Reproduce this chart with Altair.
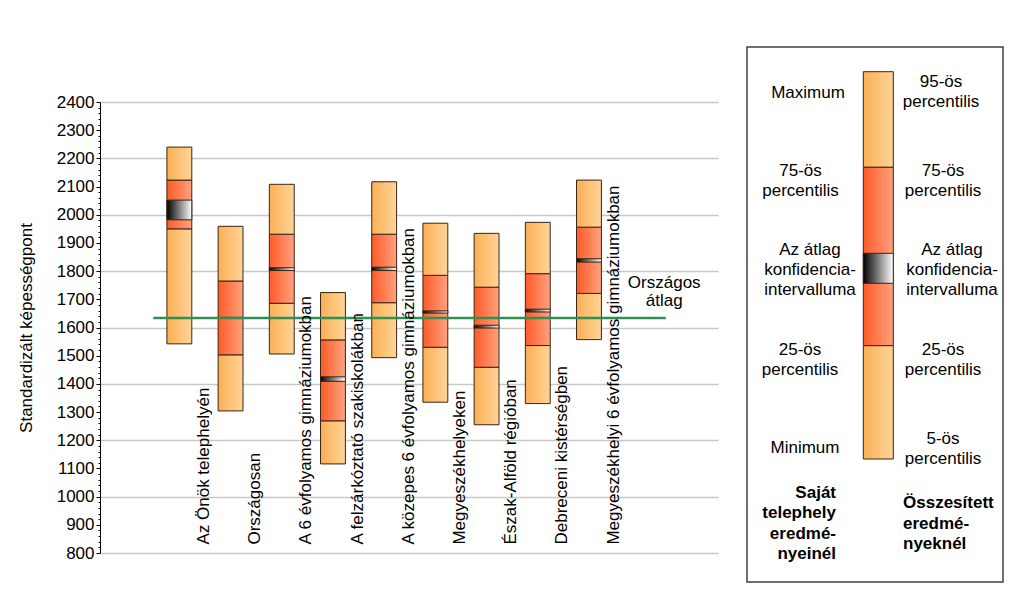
import altair as alt
import pandas as pd

FONT = "Liberation Sans"

# ---------------- data ----------------
categories = [
    "Az Önök telephelyén",
    "Országosan",
    "A 6 évfolyamos gimnáziumokban",
    "A felzárkóztató szakiskolákban",
    "A közepes 6 évfolyamos gimnáziumokban",
    "Megyeszékhelyeken",
    "Észak-Alföld régióban",
    "Debreceni kistérségben",
    "Megyeszékhelyi 6 évfolyamos gimnáziumokban",
]
p_low = [1542, 1304, 1506, 1116, 1493, 1335, 1255, 1330, 1557]
q1 = [1950, 1503, 1686, 1269, 1688, 1530, 1459, 1536, 1721]
ci_low = [1982, 1632, 1802, 1409, 1802, 1651, 1598, 1655, 1832]
ci_high = [2052, 1636, 1812, 1425, 1814, 1659, 1608, 1665, 1844]
q3 = [2123, 1765, 1931, 1556, 1931, 1785, 1743, 1791, 1956]
p_high = [2240, 1959, 2108, 1724, 2117, 1970, 1934, 1973, 2123]
national_avg = 1634
national_label = "Országos\nátlag"

y_min, y_max = 800, 2400

# ---------------- styles ----------------
LIGHT = alt.LinearGradient(gradient="linear", x1=0, x2=1, y1=0, y2=0,
                           stops=[alt.GradientStop(color="#FBB055", offset=0),
                                  alt.GradientStop(color="#FFD498", offset=1)])
RED = alt.LinearGradient(gradient="linear", x1=0, x2=1, y1=0, y2=0,
                         stops=[alt.GradientStop(color="#FF5A28", offset=0),
                                alt.GradientStop(color="#FFA27E", offset=1)])
CI = alt.LinearGradient(gradient="linear", x1=0, x2=1, y1=0, y2=0,
                        stops=[alt.GradientStop(color="#000000", offset=0),
                               alt.GradientStop(color="#FFFFFF", offset=1)])
STROKE = "#3a2414"

n = len(categories)
pos = [i + 1.5 for i in range(n)]
half = 0.243
df = pd.DataFrame({"cat": categories, "pos": pos, "lo": p_low, "q1": q1,
                   "cil": ci_low, "cih": ci_high, "q3": q3, "hi": p_high})
df["x1"] = df["pos"] - half
df["x2"] = df["pos"] + half
df["lx"] = df["pos"] + 0.48
df["ly"] = 830

xs = alt.Scale(domain=[-0.05, 12.02], nice=False, zero=False)
ys = alt.Scale(domain=[y_min, y_max], nice=False, zero=False)

yaxis = alt.Axis(
    values=list(range(y_min, y_max + 1, 20)),
    format="d",
    labelExpr="datum.value % 100 === 0 ? datum.label : ''",
    tickSize={"condition": {"test": "datum.value % 100 === 0", "value": 4}, "value": 2},
    gridOpacity={"condition": {"test": "datum.value % 200 === 0", "value": 1}, "value": 0},
    grid=True, gridColor="#c8c8c8", gridWidth=1.5,
    domainColor="#000000", tickColor="#000000", domainWidth=1,
    labelFont=FONT, labelFontSize=17, labelColor="#000000", labelPadding=2,
    labelOverlap=False,
    title="Standardizált képességpont", titleFont=FONT, titleFontSize=17,
    titleFontWeight="normal", titleColor="#000000", titleX=-69,
    titleBaseline="alphabetic",
)

base = alt.Chart(df)


def seg(a, b, grad):
    return base.mark_rect(fill=grad, stroke=STROKE, strokeWidth=1).encode(
        x=alt.X("x1:Q", scale=xs, axis=None), x2="x2:Q",
        y=alt.Y(f"{a}:Q", scale=ys, axis=yaxis), y2=f"{b}:Q")


bars = [seg("lo", "q1", LIGHT), seg("q1", "q3", RED), seg("q3", "hi", LIGHT),
        seg("cil", "cih", CI)]

labels = base.mark_text(angle=270, align="left", baseline="middle", font=FONT,
                        fontSize=17, color="#000000").encode(
    x=alt.X("lx:Q", scale=xs, axis=None),
    y=alt.Y("ly:Q", scale=ys, axis=yaxis),
    text="cat:N")

avg_df = pd.DataFrame({"x": [pos[0] - 0.51], "x2": [pos[-1] + 1.5], "y": [national_avg],
                       "lx": [pos[-1] + 1.47], "ly": [1739], "t": [national_label]})
avg_line = alt.Chart(avg_df).mark_rule(color="#2f8f55", strokeWidth=2.5).encode(
    x=alt.X("x:Q", scale=xs, axis=None), x2="x2:Q",
    y=alt.Y("y:Q", scale=ys, axis=yaxis))
avg_text = alt.Chart(avg_df).mark_text(align="center", baseline="alphabetic", font=FONT,
                                       fontSize=17, lineBreak="\n", lineHeight=18,
                                       color="#000000").encode(
    x=alt.X("lx:Q", scale=xs, axis=None),
    y=alt.Y("ly:Q", scale=ys, axis=yaxis),
    text="t:N")

main = alt.layer(*bars, avg_line, labels, avg_text)

# ---------------- legend (own scales, reference pixel units) ----------------
lxs = alt.Scale(domain=[100, 718], nice=False, zero=False)
lys = alt.Scale(domain=[102, 553], nice=False, zero=False, reverse=True)

box_df = pd.DataFrame({"x": [747], "x2": [1003], "y": [47], "y2": [582]})
legend_box = alt.Chart(box_df).mark_rect(fill="white", stroke="#404040", strokeWidth=1.5).encode(
    x=alt.X("x:Q", scale=lxs, axis=None), x2="x2:Q",
    y=alt.Y("y:Q", scale=lys, axis=None), y2="y2:Q")

leg_levels = [71.7, 167.3, 253.3, 283.3, 345.7, 459]  # top, q3, ci top, ci bottom, q1, bottom
leg_bar_x = [863.3, 893.3]


def legseg(a, b, grad):
    d = pd.DataFrame({"x": [leg_bar_x[0]], "x2": [leg_bar_x[1]], "y": [a], "y2": [b]})
    return alt.Chart(d).mark_rect(fill=grad, stroke=STROKE, strokeWidth=1).encode(
        x=alt.X("x:Q", scale=lxs, axis=None), x2="x2:Q",
        y=alt.Y("y:Q", scale=lys, axis=None), y2="y2:Q")


leg_bars = [legseg(leg_levels[0], leg_levels[1], LIGHT),
            legseg(leg_levels[1], leg_levels[4], RED),
            legseg(leg_levels[2], leg_levels[3], CI),
            legseg(leg_levels[4], leg_levels[5], LIGHT)]

leg_left_text = ["Maximum", "75-ös\npercentilis", "Az átlag\nkonfidencia-\nintervalluma",
                 "25-ös\npercentilis", "Minimum"]
leg_left_x = [808, 800.5, 810, 800, 805]
leg_left_y = [98.3, 176, 255, 355, 453.3]
leg_right_text = ["95-ös\npercentilis", "75-ös\npercentilis", "Az átlag\nkonfidencia-\nintervalluma",
                  "25-ös\npercentilis", "5-ös\npercentilis"]
leg_right_x = [941, 943, 952, 943, 943]
leg_right_y = [87.3, 176, 255, 355, 444]

reg_df = pd.DataFrame({"t": leg_left_text + leg_right_text,
                       "x": leg_left_x + leg_right_x,
                       "y": leg_left_y + leg_right_y})
leg_reg = alt.Chart(reg_df).mark_text(align="center", baseline="alphabetic", font=FONT,
                                      fontSize=17, lineBreak="\n", lineHeight=20,
                                      color="#000000").encode(
    x=alt.X("x:Q", scale=lxs, axis=None), y=alt.Y("y:Q", scale=lys, axis=None), text="t:N")

bold_df = pd.DataFrame({"t": ["Saját\ntelephely\neredmé-\nnyeinél", "Összesített\neredmé-\nnyeknél"],
                        "x": [836, 903], "y": [497.7, 508.3]})
leg_bold_l = alt.Chart(bold_df.iloc[[0]]).mark_text(align="right", baseline="alphabetic", font=FONT,
                                                   fontSize=17, fontWeight="bold", lineBreak="\n",
                                                   lineHeight=20.5, color="#000000").encode(
    x=alt.X("x:Q", scale=lxs, axis=None), y=alt.Y("y:Q", scale=lys, axis=None), text="t:N")
leg_bold_r = alt.Chart(bold_df.iloc[[1]]).mark_text(align="left", baseline="alphabetic", font=FONT,
                                                   fontSize=17, fontWeight="bold", lineBreak="\n",
                                                   lineHeight=20.5, color="#000000").encode(
    x=alt.X("x:Q", scale=lxs, axis=None), y=alt.Y("y:Q", scale=lys, axis=None), text="t:N")

legend = alt.layer(legend_box, *leg_bars, leg_reg, leg_bold_l, leg_bold_r)

chart = alt.layer(main, legend).resolve_scale(x="independent", y="independent").properties(
    width=618, height=451,
    padding={"left": 92, "top": 94, "right": 290, "bottom": 32},
    autosize=alt.AutoSizeParams(type="none"),
    background="white",
).configure_view(stroke=None)

chart.save("out.html", embed_options={"renderer": "svg", "actions": False})
